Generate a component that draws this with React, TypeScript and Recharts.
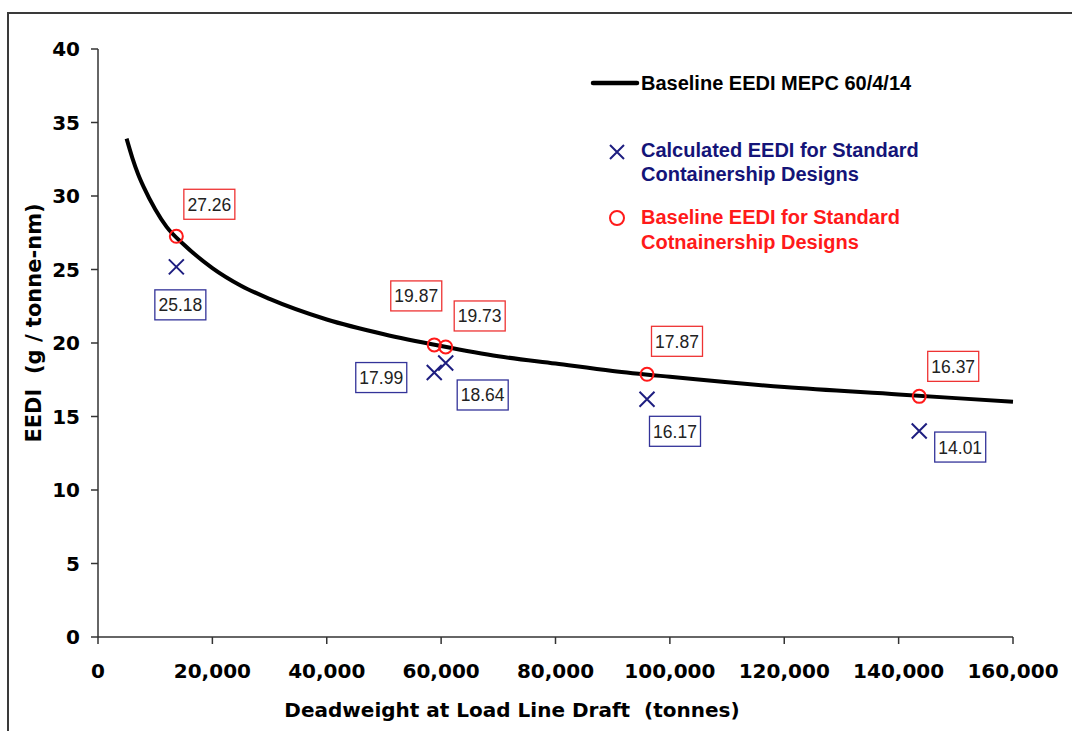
import { ScatterChart, Scatter, XAxis, YAxis } from "recharts";

// ship deadweight (tonnes) of the five standard designs
const dwt = [13700, 58800, 60800, 96000, 143600];
const calculatedEedi = [25.18, 17.99, 18.64, 16.17, 14.01];
const baselineEedi = [27.26, 19.87, 19.73, 17.87, 16.37];

// baseline reference line
const curveDwt = [5000, 6000, 7000, 8000, 10000, 12000, 15000, 20000, 25000, 30000, 40000, 50000, 60000, 70000, 80000, 90000, 100000, 120000, 140000, 160000];
const curveEedi = [33.9, 32.6, 31.5, 30.6, 29.1, 27.9, 26.7, 25.1, 23.9, 23.0, 21.6, 20.6, 19.8, 19.1, 18.6, 18.1, 17.7, 17.0, 16.5, 16.0];

const xTicks = [0, 20000, 40000, 60000, 80000, 100000, 120000, 140000, 160000];
const yTicks = [0, 5, 10, 15, 20, 25, 30, 35, 40];

// label box offsets from their point (px)
const baselineLabelOffsets = [[33, -32], [-18, -49], [34, -31], [30, -33], [34, -30]];
const calculatedLabelOffsets = [[4, 38], [-53, 5], [37, 32], [28, 32], [41, 16]];

const RED = "#ff1a1a";
const NAVY = "#1e1e80";
const AXIS = "#333";
const TITLE_FONT = "'DejaVu Sans', sans-serif";
const LABEL_FONT = "'Liberation Sans', Arial, sans-serif";

const curve = curveDwt.map((x, i) => ({ x, y: curveEedi[i] }));
const crosses = dwt.map((x, i) => ({ x, y: calculatedEedi[i], i }));
const circles = dwt.map((x, i) => ({ x, y: baselineEedi[i], i }));

function ValueBox({ x, y, text, stroke }: { x: number; y: number; text: string; stroke: string }) {
  return (
    <g>
      <rect x={x - 25.5} y={y - 15} width={51} height={30} fill="#fff" stroke={stroke} strokeWidth={1.3} />
      <text x={x} y={y + 6.5} textAnchor="middle" fontFamily={LABEL_FONT} fontSize={17.5} fill="#222">
        {text}
      </text>
    </g>
  );
}

function CrossShape(props: any) {
  const { cx, cy, payload } = props;
  const [dx, dy] = calculatedLabelOffsets[payload.i];
  const s = 7.5;
  return (
    <g>
      <path d={`M${cx - s},${cy - s}L${cx + s},${cy + s}M${cx - s},${cy + s}L${cx + s},${cy - s}`} stroke={NAVY} strokeWidth={2} />
      <ValueBox x={cx + dx} y={cy + dy} text={payload.y.toFixed(2)} stroke="#333399" />
    </g>
  );
}

function CircleShape(props: any) {
  const { cx, cy, payload } = props;
  const [dx, dy] = baselineLabelOffsets[payload.i];
  return (
    <g>
      <circle cx={cx} cy={cy} r={6.5} fill="none" stroke={RED} strokeWidth={2} />
      <ValueBox x={cx + dx} y={cy + dy} text={payload.y.toFixed(2)} stroke="#ee3333" />
    </g>
  );
}

const tickStyle = { fontFamily: TITLE_FONT, fontWeight: "bold", fontSize: 20, fill: "#000" };

export default function App() {
  return (
    <div style={{ position: "absolute", left: 0, top: 0, width: 1072, height: 731, background: "#fff" }}>
      <ScatterChart width={1072} height={731} margin={{ top: 49, right: 59, bottom: 0, left: 0 }}>
        <XAxis
          type="number"
          dataKey="x"
          domain={[0, 160000]}
          ticks={xTicks}
          interval={0}
          height={94}
          tickSize={7}
          tickMargin={20}
          stroke={AXIS}
          strokeWidth={1.5}
          tick={tickStyle}
          tickFormatter={(v: number) => v.toLocaleString("en-US")}
        />
        <YAxis
          type="number"
          dataKey="y"
          domain={[0, 40]}
          ticks={yTicks}
          interval={0}
          width={98}
          tickSize={7}
          tickMargin={11}
          stroke={AXIS}
          strokeWidth={1.5}
          tick={tickStyle}
        />
        <Scatter
          data={curve}
          line={{ stroke: "#000", strokeWidth: 4 }}
          lineJointType="monotoneX"
          shape={() => <g />}
          isAnimationActive={false}
        />
        <Scatter data={crosses} shape={CrossShape} isAnimationActive={false} />
        <Scatter data={circles} shape={CircleShape} isAnimationActive={false} />
      </ScatterChart>

      <svg width={1072} height={731} style={{ position: "absolute", left: 0, top: 0, pointerEvents: "none" }}>
        {/* frame */}
        <path d="M8,731V13H1072" fill="none" stroke="#3a3a3a" strokeWidth={2} />

        {/* axis titles */}
        <text
          x={512}
          y={717}
          textAnchor="middle"
          fontFamily={TITLE_FONT}
          fontWeight="bold"
          fontSize={20}
          style={{ whiteSpace: "pre" }}
        >
          {"Deadweight at Load Line Draft  (tonnes)"}
        </text>
        <text
          transform="translate(41,323) rotate(-90)"
          textAnchor="middle"
          fontFamily={TITLE_FONT}
          fontWeight="bold"
          fontSize={21}
          style={{ whiteSpace: "pre" }}
        >
          {"EEDI  (g / tonne-nm)"}
        </text>

        {/* legend */}
        <g fontFamily={LABEL_FONT} fontWeight="bold" fontSize={20}>
          <line x1={593} y1={83} x2={637} y2={83} stroke="#000" strokeWidth={4.5} strokeLinecap="round" />
          <text x={641} y={90} fill="#000">Baseline EEDI MEPC 60/4/14</text>

          <path d="M610,145L624,159M610,159L624,145" stroke={NAVY} strokeWidth={2} />
          <text x={641} y={157} fill="#141478">Calculated EEDI for Standard</text>
          <text x={641} y={181} fill="#141478">Containership Designs</text>

          <circle cx={617} cy={218} r={7} fill="none" stroke={RED} strokeWidth={2} />
          <text x={641} y={224} fill={RED}>Baseline EEDI for Standard</text>
          <text x={641} y={249} fill={RED}>Cotnainership Designs</text>
        </g>
      </svg>
    </div>
  );
}
